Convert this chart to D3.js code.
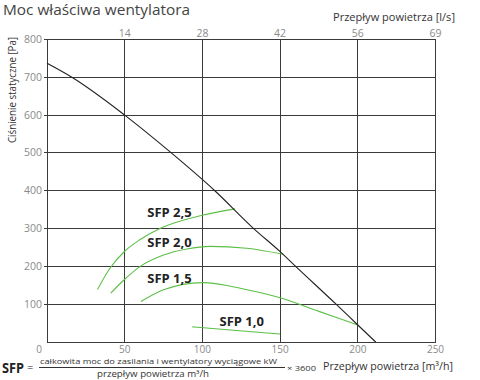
<!DOCTYPE html>
<html><head><meta charset="utf-8">
<script src="https://cdn.jsdelivr.net/npm/d3@7"></script>
<style>body{margin:0;background:#fff}svg{display:block;font-family:"Open Sans",sans-serif}</style>
</head><body><svg id="c" width="480" height="380"></svg>
<script>
const xTicks = [0, 50, 100, 150, 200, 250];
const yTicks = [0, 100, 200, 300, 400, 500, 600, 700, 800];
const topTickPos = [50, 100, 150, 200, 250];
const topTickLabels = ["14", "28", "42", "56", "69"];
const fanCurve = [[0,737],[16,700],[50,600],[80,500],[108,400],[133,300],[150,239],[160,200],[186,100],[200,45],[211.5,0]];
const sfp25 = [[32.5,139],[40.5,195],[50,240],[60,271],[72.7,300],[100,335],[121,352]];
const sfp20 = [[41,129],[50,166],[60,200],[75,230],[90,246],[105,253],[128.5,248],[152,232]];
const sfp15 = [[60.5,107],[75,138],[100,157],[128,139],[150,117],[175,81],[200,45]];
const sfp10 = [[93.5,40],[120,31],[150,21]];
const sfpLabels = ["SFP 2,5","SFP 2,0","SFP 1,5","SFP 1,0"];
const sfpLabelAt = [[64.5,331],[64.5,250],[64.5,155],[111,41]];

const svg = d3.select("#c");
const x = d3.scaleLinear().domain([0,250]).range([47,435.5]);
const y = d3.scaleLinear().domain([0,800]).range([342,39.5]);
const grid = "#3a3a3a", lab = "#8a8a8a";

// title
svg.append("text").attr("x",3).attr("y",15).attr("font-size",15).attr("fill","#444")
  .attr("textLength",187).attr("lengthAdjust","spacingAndGlyphs").text("Moc właściwa wentylatora");
svg.append("text").attr("x",333).attr("y",21).attr("font-size",11.3).attr("fill","#333")
  .attr("textLength",122).attr("lengthAdjust","spacingAndGlyphs").text("Przepływ powietrza [l/s]");

// grid
const g = svg.append("g");
g.selectAll("line.v").data(xTicks).join("line")
  .attr("x1",d=>x(d)).attr("x2",d=>x(d)).attr("y1",y(800)).attr("y2",y(0))
  .attr("stroke",grid).attr("stroke-width",1).attr("shape-rendering","crispEdges");
g.selectAll("line.h").data(yTicks).join("line")
  .attr("x1",d=>d===0?x(0):x(0)-3).attr("x2",x(250)).attr("y1",d=>y(d)).attr("y2",d=>y(d))
  .attr("stroke",grid).attr("stroke-width",1).attr("shape-rendering","crispEdges");

// axis labels (the shared "0" is drawn once, by the x axis)
svg.selectAll("text.yl").data(yTicks.filter(d=>d>0)).join("text")
  .attr("x",42).attr("y",d=>y(d)+3.5).attr("text-anchor","end").attr("font-size",10.5).attr("fill",lab).text(d=>d);
svg.selectAll("text.xl").data(xTicks).join("text")
  .attr("x",d=>d===0?x(d)-8:x(d)).attr("y",353).attr("text-anchor","middle").attr("font-size",10).attr("fill",lab).text(d=>d);
svg.selectAll("text.tl").data(topTickPos).join("text")
  .attr("x",d=>x(d)).attr("y",37).attr("text-anchor","middle").attr("font-size",10.5).attr("fill",lab)
  .text((d,i)=>topTickLabels[i]);
svg.append("text").attr("transform","translate(16,37) rotate(-90)").attr("text-anchor","end")
  .attr("font-size",11).attr("fill","#333").attr("textLength",106).attr("lengthAdjust","spacingAndGlyphs")
  .text("Ciśnienie statyczne [Pa]");

// curves
const line = d3.line().x(d=>x(d[0])).y(d=>y(d[1])).curve(d3.curveMonotoneX);
[sfp25,sfp20,sfp15,sfp10].forEach(s=>{
  svg.append("path").attr("d",line(s)).attr("fill","none").attr("stroke","#5cbf45").attr("stroke-width",1.1);
});
svg.append("path").attr("d",line(fanCurve)).attr("fill","none").attr("stroke","#222").attr("stroke-width",1.1);

svg.selectAll("text.sfp").data(sfpLabels).join("text")
  .attr("x",(d,i)=>x(sfpLabelAt[i][0])).attr("y",(d,i)=>y(sfpLabelAt[i][1]))
  .attr("font-size",13).attr("font-weight","bold").attr("fill","#222").text(d=>d);

// formula
svg.append("text").attr("x",2).attr("y",373).attr("font-size",14.5).attr("font-weight","bold").attr("fill","#222")
  .attr("textLength",22).attr("lengthAdjust","spacingAndGlyphs").text("SFP");
svg.append("text").attr("x",27).attr("y",371).attr("font-size",11).attr("fill","#222").text("=");
svg.append("text").attr("x",40).attr("y",364).attr("font-size",8).attr("fill","#333")
  .attr("textLength",237).attr("lengthAdjust","spacingAndGlyphs").text("całkowita moc do zasilania i wentylatory wyciągowe kW");
svg.append("line").attr("x1",39).attr("x2",285).attr("y1",367.5).attr("y2",367.5).attr("stroke","#333").attr("stroke-width",1).attr("shape-rendering","crispEdges");
svg.append("text").attr("x",97).attr("y",377).attr("font-size",8.3).attr("fill","#333")
  .attr("textLength",112).attr("lengthAdjust","spacingAndGlyphs").text("przepływ powietrza m³/h");
svg.append("text").attr("x",287).attr("y",371).attr("font-size",8).attr("fill","#333")
  .attr("textLength",29).attr("lengthAdjust","spacingAndGlyphs").text("× 3600");
svg.append("text").attr("x",323).attr("y",370).attr("font-size",11).attr("fill","#333")
  .attr("textLength",130).attr("lengthAdjust","spacingAndGlyphs").text("Przepływ powietrza [m³/h]");
</script></body></html>
